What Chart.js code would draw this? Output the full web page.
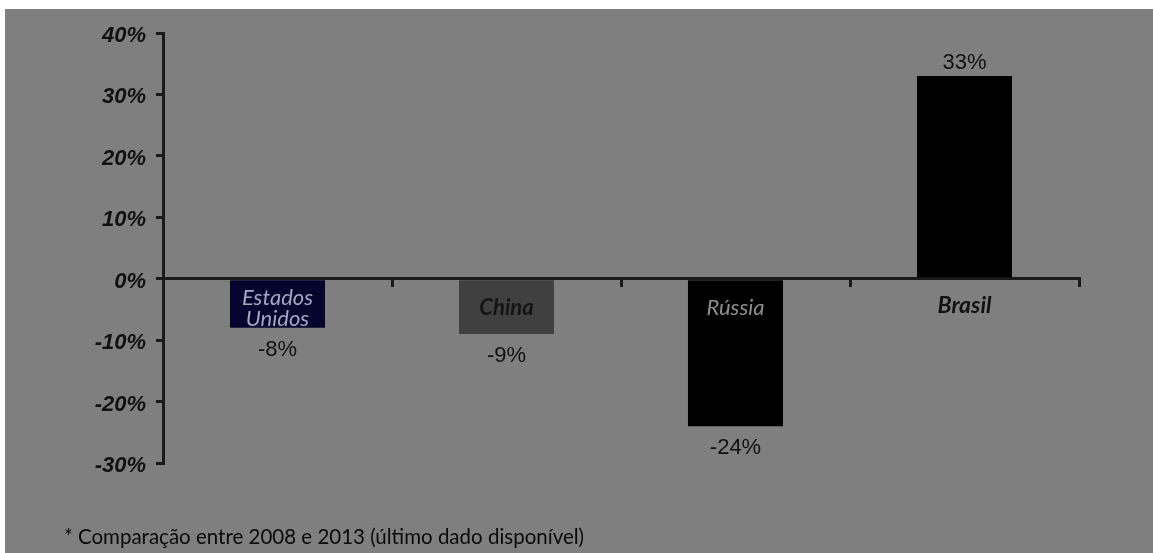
<!DOCTYPE html>
<html>
<head>
<meta charset="utf-8">
<script src="https://cdn.jsdelivr.net/npm/chart.js@4.4.0/dist/chart.umd.min.js"></script>
<style>
  html, body { margin: 0; background: #fff; }
  #panel { position: absolute; left: 5px; top: 9px; width: 1148px; height: 544px; background: #7f7f7f; }
  #wrap { position: absolute; left: 0; top: 0; width: 1153px; height: 553px; }
  #note { position: absolute; left: 64px; top: 524px; font: 20.5px Lato, sans-serif; color: #0a0a0a; white-space: nowrap; }
</style>
</head>
<body>
<div id="panel"></div>
<div id="wrap"><canvas id="growthChart"></canvas></div>
<div id="note">* Comparação entre 2008 e 2013 (último dado disponível)</div>

<script>
// variação percentual por país
const countries = [['Estados', 'Unidos'], 'China', 'Rússia', 'Brasil'];
const changes = [-8, -9, -24, 33];
const yMin = -30;
const yMax = 40;
const yStep = 10;

const barColors = ['#05052e', '#404040', '#000000', '#000000'];
const nameColors = ['#a3a9c2', '#141414', '#8e8e8e', '#111111'];
const nameFonts = ['italic 22px Lato', 'italic bold 22px Lato', 'italic 22px Lato', 'italic bold 23px Lato'];

// nomes dos países e valores escritos junto de cada barra
const barLabels = {
    id: 'barLabels',
    afterDatasetsDraw(chart) {
        const ctx = chart.ctx;
        const bars = chart.getDatasetMeta(0).data;
        ctx.save();
        ctx.textAlign = 'center';
        ctx.textBaseline = 'middle';
        bars.forEach((bar, i) => {
            const v = changes[i];
            ctx.font = '22px "Liberation Sans", Arial, sans-serif';
            ctx.fillStyle = '#111';
            if (v < 0) {
                ctx.fillText(v + '%', bar.x, bar.y + 22);
            } else {
                ctx.fillText(v + '%', bar.x, bar.y - 13);
            }

            ctx.font = nameFonts[i];
            ctx.fillStyle = nameColors[i];
            const name = countries[i];
            if (Array.isArray(name)) {
                ctx.fillText(name[0], bar.x, bar.base + 18);
                ctx.fillText(name[1], bar.x, bar.base + 39);
            } else {
                ctx.fillText(name, bar.x, bar.base + 28);
            }
        });
        ctx.restore();
    }
};

document.addEventListener('DOMContentLoaded', function() {
    drawGrowthChart();
});

function drawGrowthChart() {
    const growthChart = document.getElementById('growthChart').getContext('2d');

    new Chart(growthChart, {
        type: 'bar',
        data: {
            labels: countries,
            datasets: [{
                data: changes,
                backgroundColor: barColors,
                borderWidth: 0,
                categoryPercentage: 1,
                barPercentage: 0.415
            }]
        },
        options: {
            responsive: true,
            maintainAspectRatio: false,
            animation: false,
            layout: {
                padding: { left: 0, top: 33, right: 74, bottom: 90 }
            },
            plugins: {
                legend: { display: false },
                tooltip: { enabled: false }
            },
            scales: {
                x: {
                    position: { y: 0 },
                    offset: true,
                    ticks: { display: false },
                    grid: {
                        offset: true,
                        drawOnChartArea: false,
                        drawTicks: true,
                        tickLength: 7,
                        color: '#1a1a1a',
                        lineWidth: 3
                    },
                    border: { display: true, color: '#1a1a1a', width: 3 }
                },
                y: {
                    min: yMin,
                    max: yMax,
                    ticks: {
                        stepSize: yStep,
                        padding: 10,
                        labelOffset: 3,
                        color: '#111',
                        font: { family: '"Liberation Sans", Arial, sans-serif', size: 22, style: 'italic', weight: 'bold' },
                        callback: v => v + '%'
                    },
                    grid: {
                        drawOnChartArea: false,
                        drawTicks: true,
                        tickLength: 7,
                        color: '#1a1a1a',
                        lineWidth: 3
                    },
                    border: { display: true, color: '#1a1a1a', width: 3 },
                    afterFit: scale => { scale.width = 163; }
                }
            }
        },
        plugins: [barLabels]
    });
}
</script>
</body>
</html>
